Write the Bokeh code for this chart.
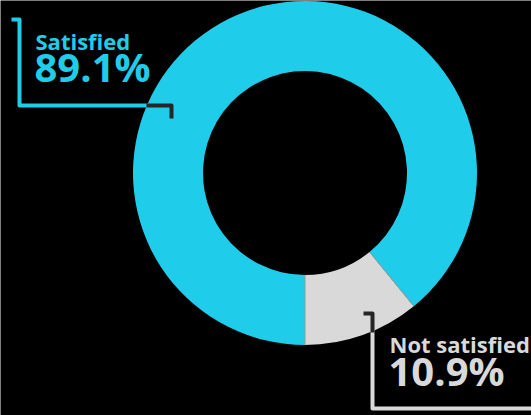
import math
from bokeh.plotting import figure
from bokeh.models import Range1d, ColumnDataSource
from bokeh.core.properties import value
from bokeh.embed import file_html
from bokeh.resources import INLINE

# ---- data ----
categories = ["Not satisfied", "Satisfied"]
shares = [10.9, 89.1]
labels = ["10.9%", "89.1%"]
colors = ["#D9D9D9", "#1FCCEA"]

W, H = 531, 415
CX, CY = 304.5, H - 172.5
R_OUT, R_IN = 172.0, 102.0


def sy(y):
    return H - y


p = figure(width=W, height=H, output_backend="svg", toolbar_location=None,
           x_range=Range1d(0, W), y_range=Range1d(0, H),
           background_fill_color="black", border_fill_color="black",
           min_border=0, outline_line_color=None)
p.axis.visible = False
p.grid.visible = False

# wedges: start at 6 o'clock, counterclockwise
start = -math.pi / 2
starts, ends = [], []
total = sum(shares)
for s in shares:
    a = 2 * math.pi * s / total
    starts.append(start)
    ends.append(start + a)
    start += a

src = ColumnDataSource(dict(cat=categories, start=starts, end=ends, color=colors))
p.annular_wedge(x=CX, y=CY, inner_radius=R_IN, outer_radius=R_OUT,
                start_angle="start", end_angle="end", direction="anticlock",
                color="color", line_color=None, source=src)

# thin separators between slices
for a in starts:
    p.segment(x0=CX + R_IN * math.cos(a), y0=CY + R_IN * math.sin(a),
              x1=CX + R_OUT * math.cos(a), y1=CY + R_OUT * math.sin(a),
              line_color="#9a9a9a", line_width=1)

LW = 4
DARK = "#262626"
# Satisfied leader
p.line([11, 19, 19, 150], [sy(19), sy(19), sy(105), sy(105)],
       line_color=colors[1], line_width=LW, line_join="round", line_cap="butt")
p.line([146, 171, 171], [sy(105), sy(105), sy(118)],
       line_color=DARK, line_width=LW, line_join="round", line_cap="butt")
# Not satisfied leader
p.line([372, 372, 531], [sy(329), sy(408), sy(408)],
       line_color=colors[0], line_width=LW, line_join="round", line_cap="butt")
p.line([363, 372, 372], [sy(313), sy(313), sy(332)],
       line_color=DARK, line_width=LW, line_join="round", line_cap="butt")

FONT = value("Open Sans")
# labels (y = bottom of text box, baseline sits ~0.26em above)
p.text(x=[35], y=[sy(55)], text=[categories[1]], text_font=FONT,
       text_font_style="bold", text_font_size="22px", text_color=colors[1],
       text_baseline="bottom", text_align="left")
p.text(x=[34], y=[sy(93.5)], text=[labels[1]], text_font=FONT,
       text_font_style="bold", text_font_size="40px", text_color=colors[1],
       text_baseline="bottom", text_align="left")
p.text(x=[389], y=[sy(358)], text=[categories[0]], text_font=FONT,
       text_font_style="bold", text_font_size="22px", text_color=colors[0],
       text_baseline="bottom", text_align="left")
p.text(x=[388], y=[sy(397.5)], text=[labels[0]], text_font=FONT,
       text_font_style="bold", text_font_size="40px", text_color=colors[0],
       text_baseline="bottom", text_align="left")

open("out.html", "w").write(file_html(p, INLINE))
